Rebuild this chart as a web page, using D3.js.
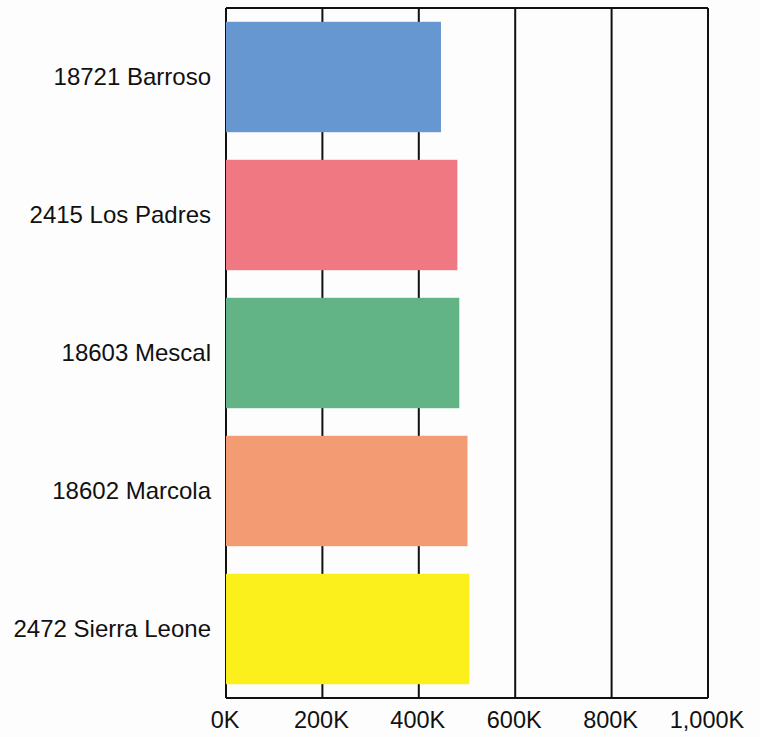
<!DOCTYPE html>
<html>
<head>
<meta charset="utf-8">
<script src="https://cdn.jsdelivr.net/npm/d3@7"></script>
<style>
  body { margin: 0; background: #fdfdfd; }
  svg text { font-family: "Liberation Sans", Arial, sans-serif; fill: #111; }
</style>
</head>
<body>
<div id="chart"></div>
<script>
// data
const stations = ["18721 Barroso", "2415 Los Padres", "18603 Mescal", "18602 Marcola", "2472 Sierra Leone"];
const totals   = [446000, 480000, 484000, 501000, 505000];
const colors   = ["#6797d0", "#ef7882", "#62b487", "#f39b72", "#fbef1c"];
const ticks    = [0, 200000, 400000, 600000, 800000, 1000000];

const W = 760, H = 737;
const margin = { top: 8, right: 52, bottom: 39, left: 226 },
      width  = W - margin.left - margin.right,
      height = H - margin.top - margin.bottom;

const svg = d3.select("#chart").append("svg")
    .attr("width", W).attr("height", H)
  .append("g")
    .attr("transform", `translate(${margin.left},${margin.top})`);

const x = d3.scaleLinear().domain([0, 1000000]).range([0, width]);
const y = d3.scaleBand().domain(stations).range([0, height])
    .paddingInner(0.2).paddingOuter(0.1);

// vertical grid lines
svg.selectAll(".grid")
  .data(ticks)
  .join("line")
    .attr("x1", d => x(d)).attr("x2", d => x(d))
    .attr("y1", 0).attr("y2", height)
    .attr("stroke", "#111").attr("stroke-width", 2);

// bars
svg.selectAll(".bar")
  .data(stations)
  .join("rect")
    .attr("x", 0)
    .attr("y", d => y(d))
    .attr("width", (d, i) => x(totals[i]))
    .attr("height", y.bandwidth())
    .attr("fill", (d, i) => colors[i]);

// frame top + bottom
svg.append("line").attr("x1", 0).attr("x2", width).attr("y1", 0).attr("y2", 0)
  .attr("stroke", "#111").attr("stroke-width", 2);
svg.append("line").attr("x1", 0).attr("x2", width).attr("y1", height).attr("y2", height)
  .attr("stroke", "#111").attr("stroke-width", 2);

// x axis labels
const fmt = d => d3.format(",")(d / 1000) + "K";
svg.selectAll(".xlab")
  .data(ticks)
  .join("text")
    .attr("x", d => x(d) - 1)
    .attr("y", height + 30)
    .attr("text-anchor", "middle")
    .style("font-size", "23.5px")
    .text(fmt);

// category labels
svg.selectAll(".ylab")
  .data(stations)
  .join("text")
    .attr("x", -15)
    .attr("y", d => y(d) + y.bandwidth() / 2)
    .attr("dy", "0.35em")
    .attr("text-anchor", "end")
    .style("font-size", "24px")
    .text(d => d);
</script>
</body>
</html>
